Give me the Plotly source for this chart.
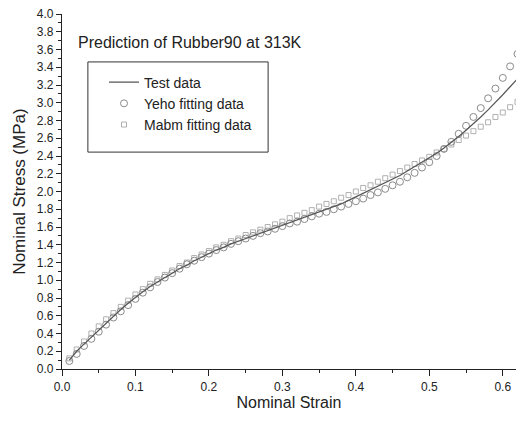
import plotly.graph_objects as go

strain = [0.01, 0.02, 0.03, 0.04, 0.05, 0.06, 0.07, 0.08, 0.09, 0.10,
          0.11, 0.12, 0.13, 0.14, 0.15, 0.16, 0.17, 0.18, 0.19, 0.20,
          0.21, 0.22, 0.23, 0.24, 0.25, 0.26, 0.27, 0.28, 0.29, 0.30,
          0.31, 0.32, 0.33, 0.34, 0.35, 0.36, 0.37, 0.38, 0.39, 0.40,
          0.41, 0.42, 0.43, 0.44, 0.45, 0.46, 0.47, 0.48, 0.49, 0.50,
          0.51, 0.52, 0.53, 0.54, 0.55, 0.56, 0.57, 0.58, 0.59, 0.60,
          0.61, 0.62]

test_stress = [0.10, 0.20, 0.28, 0.36, 0.44, 0.52, 0.59, 0.67, 0.74, 0.81,
               0.87, 0.93, 0.98, 1.03, 1.08, 1.13, 1.17, 1.22, 1.26, 1.30,
               1.34, 1.37, 1.41, 1.44, 1.47, 1.50, 1.53, 1.56, 1.59, 1.62,
               1.65, 1.68, 1.71, 1.74, 1.77, 1.80, 1.83, 1.86, 1.90, 1.94,
               1.98, 2.02, 2.06, 2.10, 2.14, 2.18, 2.23, 2.28, 2.33, 2.38,
               2.43, 2.49, 2.55, 2.62, 2.69, 2.76, 2.84, 2.92, 3.00, 3.09,
               3.18, 3.27]

yeho_stress = [0.09, 0.17, 0.26, 0.34, 0.42, 0.50, 0.58, 0.65, 0.72, 0.79,
               0.86, 0.92, 0.98, 1.03, 1.08, 1.13, 1.18, 1.22, 1.26, 1.30,
               1.34, 1.37, 1.41, 1.44, 1.47, 1.50, 1.53, 1.55, 1.58, 1.61,
               1.64, 1.66, 1.69, 1.72, 1.75, 1.77, 1.80, 1.83, 1.86, 1.89,
               1.92, 1.96, 1.99, 2.03, 2.07, 2.11, 2.16, 2.21, 2.27, 2.33,
               2.40, 2.48, 2.56, 2.65, 2.74, 2.84, 2.94, 3.05, 3.16, 3.28,
               3.41, 3.55]

mabm_stress = [0.12, 0.22, 0.31, 0.40, 0.48, 0.56, 0.63, 0.70, 0.77, 0.84,
               0.90, 0.96, 1.01, 1.06, 1.11, 1.16, 1.20, 1.25, 1.29, 1.33,
               1.37, 1.40, 1.44, 1.47, 1.51, 1.54, 1.57, 1.60, 1.63, 1.66,
               1.70, 1.73, 1.76, 1.79, 1.83, 1.86, 1.89, 1.93, 1.96, 2.00,
               2.04, 2.07, 2.11, 2.15, 2.19, 2.23, 2.27, 2.31, 2.35, 2.39,
               2.44, 2.48, 2.53, 2.58, 2.63, 2.68, 2.73, 2.78, 2.84, 2.89,
               2.95, 3.01]

x_ticks = [0.0, 0.1, 0.2, 0.3, 0.4, 0.5, 0.6]
y_ticks = [round(0.2 * i, 1) for i in range(21)]

FONT = "Liberation Sans, Arial, sans-serif"

fig = go.Figure()
fig.add_trace(go.Scatter(x=strain, y=mabm_stress, mode="markers", name="Mabm fitting data",
                         marker=dict(symbol="square-open", size=5, color="#b0b0b0", line=dict(width=1)),
                         legendrank=3))
fig.add_trace(go.Scatter(x=strain, y=yeho_stress, mode="markers", name="Yeho fitting data",
                         marker=dict(symbol="circle-open", size=7, color="#8a8a8a", line=dict(width=1)),
                         legendrank=2))
fig.add_trace(go.Scatter(x=strain, y=test_stress, mode="lines", name="Test data",
                         line=dict(color="#555555", width=1.2), legendrank=1))

fig.update_layout(
    width=516, height=421,
    margin=dict(l=62, r=0, t=14, b=52),
    paper_bgcolor="white", plot_bgcolor="white",
    font=dict(family=FONT, color="#222", size=12),
    showlegend=True,
    legend=dict(x=0.0925, y=0.852, xanchor="left", yanchor="top",
                bgcolor="rgba(0,0,0,0)", borderwidth=0,
                font=dict(size=14, family=FONT)),
    xaxis=dict(range=[0, 0.618], tickvals=x_ticks, ticktext=[f"{v:.1f}" for v in x_ticks],
               showgrid=False, zeroline=False, showline=True, linecolor="#222", linewidth=1.2,
               ticks="outside", ticklen=6, tickcolor="#222",
               minor=dict(dtick=0.05, ticks="outside", ticklen=3, tickcolor="#222"),
               tickfont=dict(size=12),
               title=dict(text="Nominal Strain", font=dict(size=16), standoff=4)),
    yaxis=dict(range=[0, 4.0], tickvals=y_ticks, ticktext=[f"{v:.1f}" for v in y_ticks],
               showgrid=False, zeroline=False, showline=True, linecolor="#222", linewidth=1.2,
               ticks="outside", ticklen=5, tickcolor="#222",
               minor=dict(dtick=0.1, ticks="outside", ticklen=3, tickcolor="#222"),
               tickfont=dict(size=12),
               title=dict(text="Nominal Stress (MPa)", font=dict(size=17), standoff=6)),
    shapes=[dict(type="rect", xref="paper", yref="paper",
                 x0=0.057, x1=0.454, y0=0.611, y1=0.865,
                 line=dict(color="#333", width=1))],
    annotations=[dict(text="Prediction of Rubber90 at 313K", xref="paper", yref="paper",
                      x=0.031, y=0.921, xanchor="left", yanchor="middle", showarrow=False,
                      font=dict(size=16, family=FONT))],
)

fig.write_html("out.html")
